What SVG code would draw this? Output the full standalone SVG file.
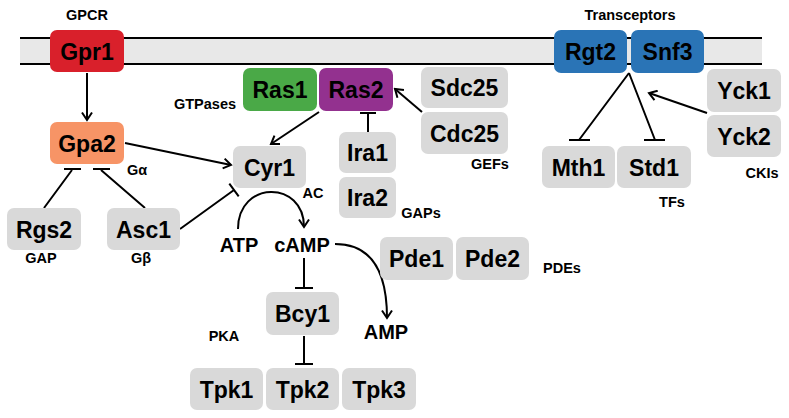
<svg xmlns="http://www.w3.org/2000/svg" width="789" height="418" viewBox="0 0 789 418">
<style>
.n{font-family:"Liberation Sans",Arial,sans-serif;font-weight:bold;font-size:23px;text-anchor:middle;fill:#000}
.l{font-family:"Liberation Sans",Arial,sans-serif;font-weight:bold;font-size:14.5px;text-anchor:middle;fill:#000}
.m{font-family:"Liberation Sans",Arial,sans-serif;font-weight:bold;font-size:20px;text-anchor:middle;fill:#000}
.g{fill:#d9d9d9}
.c{stroke:#000;stroke-width:2;fill:none}
.a{marker-end:url(#ah)}
</style>
<defs>
<marker id="ah" viewBox="-9 -6 11 12" markerWidth="11" markerHeight="12" refX="0" refY="0" orient="auto" markerUnits="userSpaceOnUse">
<path d="M-7.5,-5 L0,0 L-7.5,5" stroke="#000" stroke-width="2" fill="none"/>
</marker>
</defs>
<g id="membrane">
<rect x="20" y="38" width="742" height="26" fill="#e8e8e8"/>
<line x1="20" y1="38" x2="762" y2="38" stroke="#000" stroke-width="2"/>
<line x1="20" y1="64" x2="762" y2="64" stroke="#000" stroke-width="2"/>
</g>
<g id="labels">
<text class="l" x="87" y="20">GPCR</text>
<text class="l" x="630" y="20">Transceptors</text>
<text class="l" x="205" y="109">GTPases</text>
<text class="l" x="137" y="175">Gα</text>
<text class="l" x="41" y="263">GAP</text>
<text class="l" x="141" y="263">Gβ</text>
<text class="l" x="313" y="198">AC</text>
<text class="l" x="421" y="218">GAPs</text>
<text class="l" x="490" y="169">GEFs</text>
<text class="l" x="672" y="207">TFs</text>
<text class="l" x="762" y="178">CKIs</text>
<text class="l" x="562" y="273">PDEs</text>
<text class="l" x="224" y="341">PKA</text>
<text class="m" x="239" y="252">ATP</text>
<text class="m" x="302" y="252">cAMP</text>
<text class="m" x="386" y="339">AMP</text>
</g>
<g id="connectors">
<line class="c a" x1="87" y1="73" x2="87" y2="120"/>
<line class="c a" x1="125" y1="143" x2="231" y2="165"/>
<line class="c a" x1="319" y1="112" x2="271" y2="144"/>
<line class="c a" x1="422" y1="112" x2="395" y2="89"/>
<line class="c a" x1="707" y1="113" x2="649" y2="93"/>
<path class="c" d="M44,208 L72,170 M64,169 L81,169"/>
<path class="c" d="M145,208 L101,170 M93,169 L110,169"/>
<path class="c" d="M180,229 L234,190 M229.3,183.6 L238.7,196.4"/>
<path class="c" d="M368,132 L368,113 M360,113 L376,113"/>
<path class="c" d="M629,73 L579,140 M569,140 L590,140"/>
<path class="c" d="M629,73 L655,140 M644,140 L665,140"/>
<path class="c a" d="M238,229 C238,180 304,180 304,227"/>
<path class="c" d="M304,258 L304,288 M295,288 L313,288"/>
<path class="c" d="M304,336 L304,364 M295,364 L313,364"/>
<path class="c a" d="M335,244 C372,244 387,272 387,318"/>
</g>
<g id="Gpr1"><rect x="50" y="30" width="74" height="42" rx="7" fill="#d9202b"/><text class="n" x="87" y="59.5">Gpr1</text></g>
<g id="Gpa2"><rect x="50" y="122" width="74" height="42" rx="7" fill="#f79466"/><text class="n" x="87" y="151.5">Gpa2</text></g>
<g id="Rgs2"><rect class="g" x="7" y="208" width="74" height="42" rx="7"/><text class="n" x="44" y="237.5">Rgs2</text></g>
<g id="Asc1"><rect class="g" x="107" y="208" width="73" height="42" rx="7"/><text class="n" x="143.5" y="237.5">Asc1</text></g>
<g id="Cyr1"><rect class="g" x="233" y="146" width="73" height="42" rx="7"/><text class="n" x="269.5" y="175.5">Cyr1</text></g>
<g id="Ras1"><rect x="243" y="68" width="74" height="43" rx="7" fill="#4aa947"/><text class="n" x="280" y="98">Ras1</text></g>
<g id="Ras2"><rect x="319" y="68" width="74" height="43" rx="7" fill="#93318f"/><text class="n" x="356" y="98">Ras2</text></g>
<g id="Ira1"><rect class="g" x="339" y="132" width="57" height="41" rx="7"/><text class="n" x="367.5" y="161">Ira1</text></g>
<g id="Ira2"><rect class="g" x="339" y="177" width="57" height="41" rx="7"/><text class="n" x="367.5" y="206">Ira2</text></g>
<g id="Sdc25"><rect class="g" x="421" y="67" width="87" height="41" rx="7"/><text class="n" x="464.5" y="96">Sdc25</text></g>
<g id="Cdc25"><rect class="g" x="421" y="112" width="87" height="42" rx="7"/><text class="n" x="464.5" y="141.5">Cdc25</text></g>
<g id="Rgt2"><rect x="554" y="30" width="73" height="43" rx="7" fill="#2a74b6"/><text class="n" x="590.5" y="60">Rgt2</text></g>
<g id="Snf3"><rect x="631" y="30" width="73" height="43" rx="7" fill="#2a74b6"/><text class="n" x="667.5" y="60">Snf3</text></g>
<g id="Mth1"><rect class="g" x="542" y="146" width="73" height="42" rx="7"/><text class="n" x="578.5" y="175.5">Mth1</text></g>
<g id="Std1"><rect class="g" x="617" y="146" width="74" height="42" rx="7"/><text class="n" x="654" y="175.5">Std1</text></g>
<g id="Yck1"><rect class="g" x="707" y="69" width="74" height="43" rx="7"/><text class="n" x="744" y="99">Yck1</text></g>
<g id="Yck2"><rect class="g" x="707" y="115" width="74" height="42" rx="7"/><text class="n" x="744" y="144.5">Yck2</text></g>
<g id="Pde1"><rect class="g" x="380" y="237" width="73" height="43" rx="7"/><text class="n" x="416.5" y="267">Pde1</text></g>
<g id="Pde2"><rect class="g" x="456" y="237" width="73" height="43" rx="7"/><text class="n" x="492.5" y="267">Pde2</text></g>
<g id="Bcy1"><rect class="g" x="266" y="292" width="73" height="43" rx="7"/><text class="n" x="302.5" y="322">Bcy1</text></g>
<g id="Tpk1"><rect class="g" x="190" y="368" width="73" height="42" rx="7"/><text class="n" x="226.5" y="397.5">Tpk1</text></g>
<g id="Tpk2"><rect class="g" x="266" y="368" width="73" height="42" rx="7"/><text class="n" x="302.5" y="397.5">Tpk2</text></g>
<g id="Tpk3"><rect class="g" x="342" y="368" width="74" height="42" rx="7"/><text class="n" x="379" y="397.5">Tpk3</text></g>
</svg>
